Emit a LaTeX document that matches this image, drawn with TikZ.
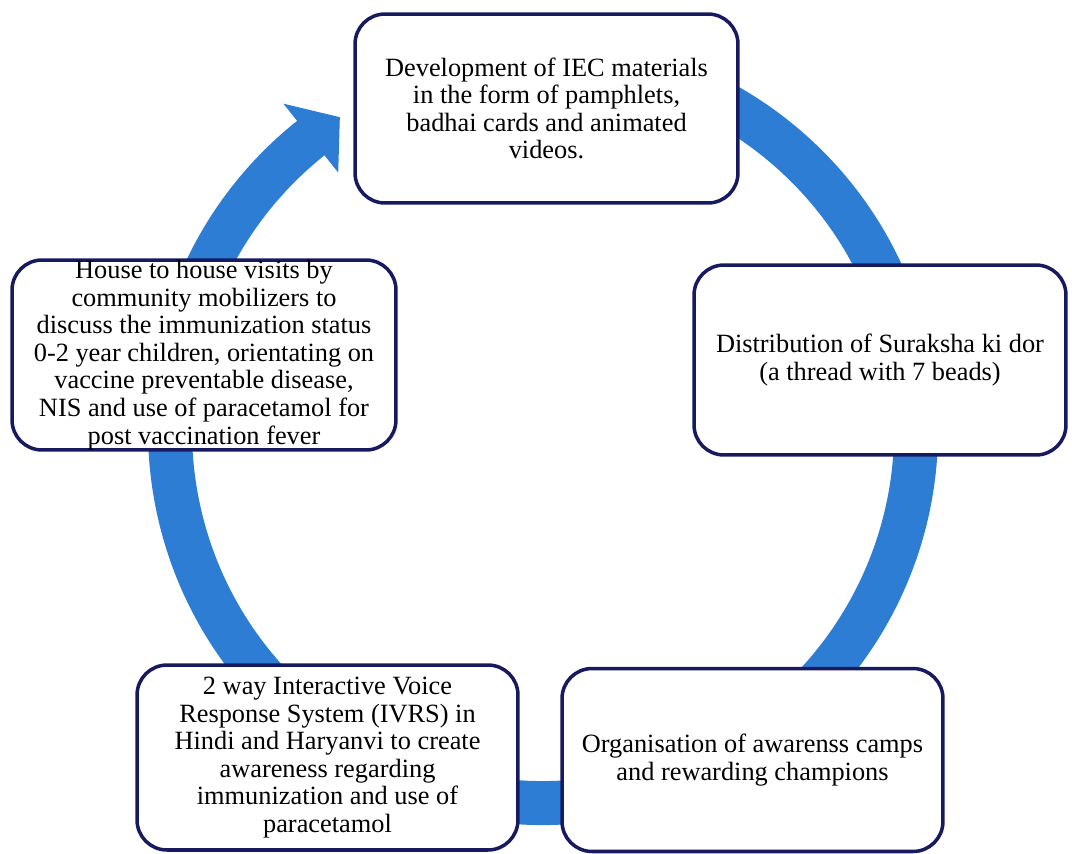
\documentclass[tikz,border=0pt]{standalone}
\usepackage{fontspec}
\setmainfont{Liberation Serif}
\usetikzlibrary{positioning,calc}
\definecolor{ringblue}{RGB}{46,125,212}
\definecolor{boxnavy}{RGB}{24,26,96}
\tikzstyle{stepbox} = [draw=boxnavy, line width=2pt, fill=white, rounded corners=0.6cm, align=center, font=\fontsize{15}{15.7}\selectfont]
\tikzstyle{ring} = [draw=ringblue, line width=0.88cm]

\begin{document}
\begin{tikzpicture}[x=0.02cm, y=-0.02cm]
    \useasboundingbox (0,0) rectangle (1072,853);
    \coordinate (ctr) at (543,430);

    % cycle ring with its head, behind the boxes
    \draw [ring] ($(ctr)+(-100:373)$) arc [start angle=-100, end angle=232, radius=373];
    \fill [ringblue] ($(ctr)+(231.5:417)$) -- ($(ctr)+(237:373)$) -- ($(ctr)+(231.5:329)$) -- cycle;

    \node [stepbox, minimum width=7.66cm, minimum height=3.78cm] (iec) at (546.5,108.5) {Development of IEC materials\\ in the form of pamphlets,\\ badhai cards and animated\\ videos.};
    \node [stepbox, minimum width=7.44cm, minimum height=3.8cm] (dor) at (880,360) {Distribution of Suraksha ki dor\\ (a thread with 7 beads)};
    \node [stepbox, minimum width=7.62cm, minimum height=3.66cm] (camps) at (752.5,760) {Organisation of awarenss camps\\ and rewarding champions};
    \node [stepbox, minimum width=7.62cm, minimum height=3.7cm] (ivrs) at (327.5,757.5) {2 way Interactive Voice\\ Response System (IVRS) in\\ Hindi and Haryanvi to create\\ awareness regarding\\ immunization and use of\\ paracetamol};
    \node [stepbox, minimum width=7.68cm, minimum height=3.8cm, inner ysep=0pt] (house) at (204,355) {House to house visits by\\ community mobilizers to\\ discuss the immunization status\\ 0-2 year children, orientating on\\ vaccine preventable disease,\\ NIS and use of paracetamol for\\ post vaccination fever};
\end{tikzpicture}
\end{document}
